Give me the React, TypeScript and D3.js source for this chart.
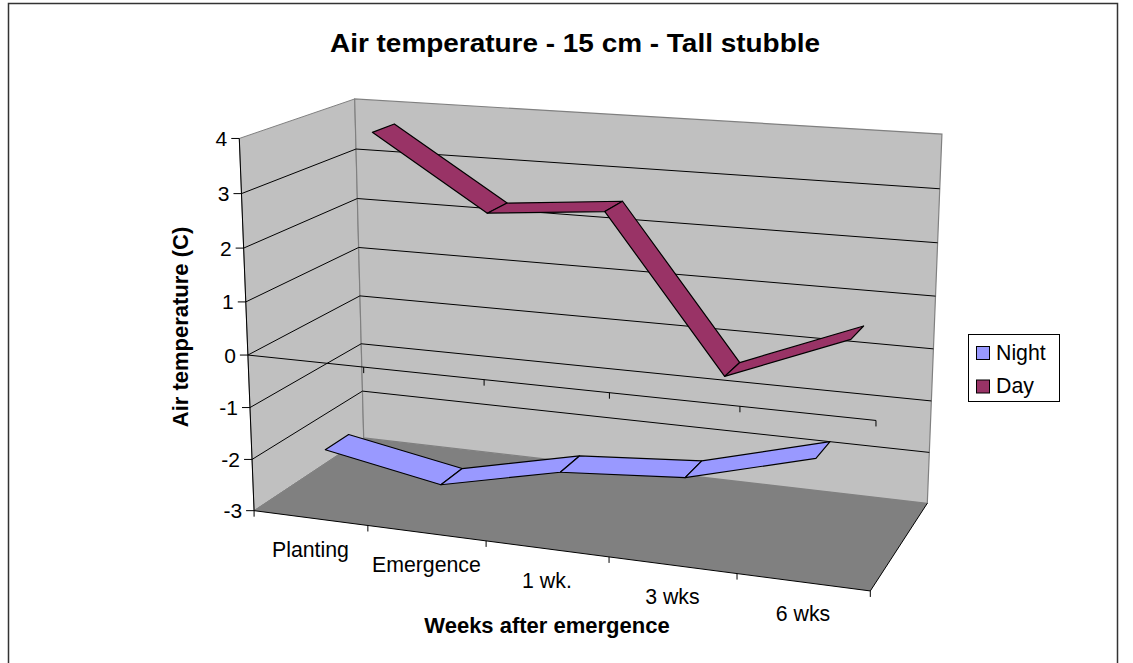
import React from "react";
import * as d3 from "d3";

const title = "Air temperature - 15 cm - Tall stubble";
const categories = ["Planting", "Emergence", "1 wk.", "3 wks", "6 wks"];
const valueTicks = [-3, -2, -1, 0, 1, 2, 3, 4];
const nightValues = [-1.89, -2.3, -1.79, -1.62, -1.0];
const dayValues = [3.68, 2.29, 2.49, -0.42, 0.5];
const seriesNames = ["Night", "Day"];
const seriesColors = ["#9999FF", "#993366"];
const seriesDepth: [number, number][] = [[0.145, 0.355], [0.645, 0.855]];

// camera calibration: [category, value, depth, screenX, screenY]
const calib: number[][] = [
  [0, 4, 0, 239, 138], [0, 0, 0, 248, 355], [0, -3, 0, 254, 510],
  [1, 0, 0, 364, 367], [2, 0, 0, 484, 380], [3, 0, 0, 609, 392], [4, 0, 0, 740, 406], [5, 0, 0, 876, 421],
  [1, -3, 0, 368.7, 526], [2, -3, 0, 486, 541.7], [3, -3, 0, 609, 558], [4, -3, 0, 737, 573], [5, -3, 0, 870, 590.5],
  [0, 4, 1, 355, 99], [0, 0, 1, 360, 297], [0, -3, 1, 363, 437],
  [5, 4, 1, 942, 134], [5, 0, 1, 933, 349], [5, -3, 1, 928, 503],
];

function solveProjection(rows: number[][]) {
  const A: number[][] = [];
  const b: number[] = [];
  rows.forEach(([X, Y, Z, u, v]) => {
    A.push([X, Y, Z, 1, 0, 0, 0, 0, -u * X, -u * Y, -u * Z]); b.push(u);
    A.push([0, 0, 0, 0, X, Y, Z, 1, -v * X, -v * Y, -v * Z]); b.push(v);
  });
  const n = 11;
  const M = d3.range(n).map((i) => [
    ...d3.range(n).map((j) => d3.sum(A, (r) => r[i] * r[j])),
    d3.sum(A, (r, k) => r[i] * b[k]),
  ]);
  for (let i = 0; i < n; i++) {
    let p = i;
    for (let k = i + 1; k < n; k++) if (Math.abs(M[k][i]) > Math.abs(M[p][i])) p = k;
    [M[i], M[p]] = [M[p], M[i]];
    for (let k = 0; k < n; k++) {
      if (k === i) continue;
      const f = M[k][i] / M[i][i];
      for (let j = i; j <= n; j++) M[k][j] -= f * M[i][j];
    }
  }
  return M.map((r, i) => r[n] / r[i]);
}
const P = solveProjection(calib);
const proj = (c: number, v: number, d: number): [number, number] => {
  const w = P[8] * c + P[9] * v + P[10] * d + 1;
  return [(P[0] * c + P[1] * v + P[2] * d + P[3]) / w, (P[4] * c + P[5] * v + P[6] * d + P[7]) / w];
};
const poly = (pts: [number, number][]) => d3.line()(pts)! + "Z";
const seg = (a: [number, number], b: [number, number]) => d3.line()([a, b])!;
const FONT = "'Liberation Sans', Arial, sans-serif";
const cmin = 0, cmax = categories.length, vmin = -3, vmax = 4;

export default function App() {
  const series = [nightValues, dayValues];
  return (
    <svg width={1133} height={663} style={{ position: "absolute", left: 0, top: 0, fontFamily: FONT }}>
      <rect x={0} y={0} width={1133} height={663} fill="#fff" />
      <path d="M8.5 663V3.5H1117.5V663" fill="none" stroke="#333" strokeWidth={1.5} />
      <text x={575} y={51.5} textAnchor="middle" fontWeight="bold" fontSize={25.5} fill="#000" textLength={490} lengthAdjust="spacingAndGlyphs">{title}</text>

      {/* walls */}
      <path d={poly([proj(cmin, vmin, 0), proj(cmin, vmax, 0), proj(cmin, vmax, 1), proj(cmin, vmin, 1)])} fill="#C0C0C0" stroke="#808080" />
      <path d={poly([proj(cmin, vmin, 1), proj(cmin, vmax, 1), proj(cmax, vmax, 1), proj(cmax, vmin, 1)])} fill="#C0C0C0" stroke="#808080" strokeWidth={1.2} />
      <path d={poly([proj(cmin, vmin, 0), proj(cmin, vmin, 1), proj(cmax, vmin, 1), proj(cmax, vmin, 0)])} fill="#808080" />
      <path d={seg(proj(cmin, vmin, 0), proj(cmin, vmin, 1))} stroke="#808080" />

      {/* gridlines */}
      {valueTicks.filter((v) => v > vmin && v < vmax).map((v) => (
        <path key={v} d={d3.line()([proj(cmin, v, 0), proj(cmin, v, 1), proj(cmax, v, 1)])!} fill="none" stroke="#000" strokeWidth={1} />
      ))}

      {/* series ribbons */}
      {series.map((vals, s) => {
        const [d0, d1] = seriesDepth[s];
        return vals.slice(0, -1).map((v, i) => {
          const c0 = i + 0.5, c1 = i + 1.5, v1 = vals[i + 1];
          return (
            <path key={s + "-" + i} d={poly([proj(c0, v, d0), proj(c0, v, d1), proj(c1, v1, d1), proj(c1, v1, d0)])}
              fill={seriesColors[s]} stroke="#000" strokeWidth={1.2} strokeLinejoin="round" />
          );
        });
      })}

      {/* floor outline and axes */}
      <path d={d3.line()([proj(cmin, vmin, 0), proj(cmax, vmin, 0), proj(cmax, vmin, 1)])!} fill="none" stroke="#000" strokeWidth={1} />
      <path d={seg(proj(cmin, 0, 0), proj(cmax, 0, 0))} stroke="#000" fill="none" />
      <path d={seg(proj(cmin, vmax, 0), proj(cmin, vmin, 0))} stroke="#000" fill="none" />
      {d3.range(cmin, cmax + 1).map((c) => {
        const a = proj(c, vmin, 0), z = proj(c, 0, 0);
        return (
          <g key={c}>
            <path d={`M${a[0]} ${a[1]}v6`} stroke="#000" />
            {c > 0 && <path d={`M${z[0]} ${z[1]}v6`} stroke="#000" />}
          </g>
        );
      })}
      {valueTicks.map((v) => {
        const [x, y] = proj(cmin, v, 0);
        return (
          <g key={v}>
            <path d={`M${x} ${y}h-8`} stroke="#000" />
            <text x={x - 12} y={y + 7.5} textAnchor="end" fontSize={21} fill="#000">{v}</text>
          </g>
        );
      })}
      {categories.map((c, i) => {
        const [x, y] = proj(i + 0.5, vmin, 0);
        return <text key={c} x={x} y={y + 39} textAnchor="middle" fontSize={21.3} fill="#000">{c}</text>;
      })}

      <text x={547} y={633} textAnchor="middle" fontWeight="bold" fontSize={22} fill="#000">Weeks after emergence</text>
      <text transform="translate(188,327) rotate(-90)" textAnchor="middle" fontWeight="bold" fontSize={22} fill="#000">Air temperature (C)</text>

      {/* legend */}
      <rect x={968.5} y={334.5} width={91} height={67} fill="#fff" stroke="#000" />
      {seriesNames.map((n, i) => (
        <g key={n}>
          <rect x={976.5} y={346.5 + i * 33.5} width={13} height={13} fill={seriesColors[i]} stroke="#000" />
          <text x={996} y={360 + i * 33} fontSize={21.3} fill="#000">{n}</text>
        </g>
      ))}
    </svg>
  );
}
